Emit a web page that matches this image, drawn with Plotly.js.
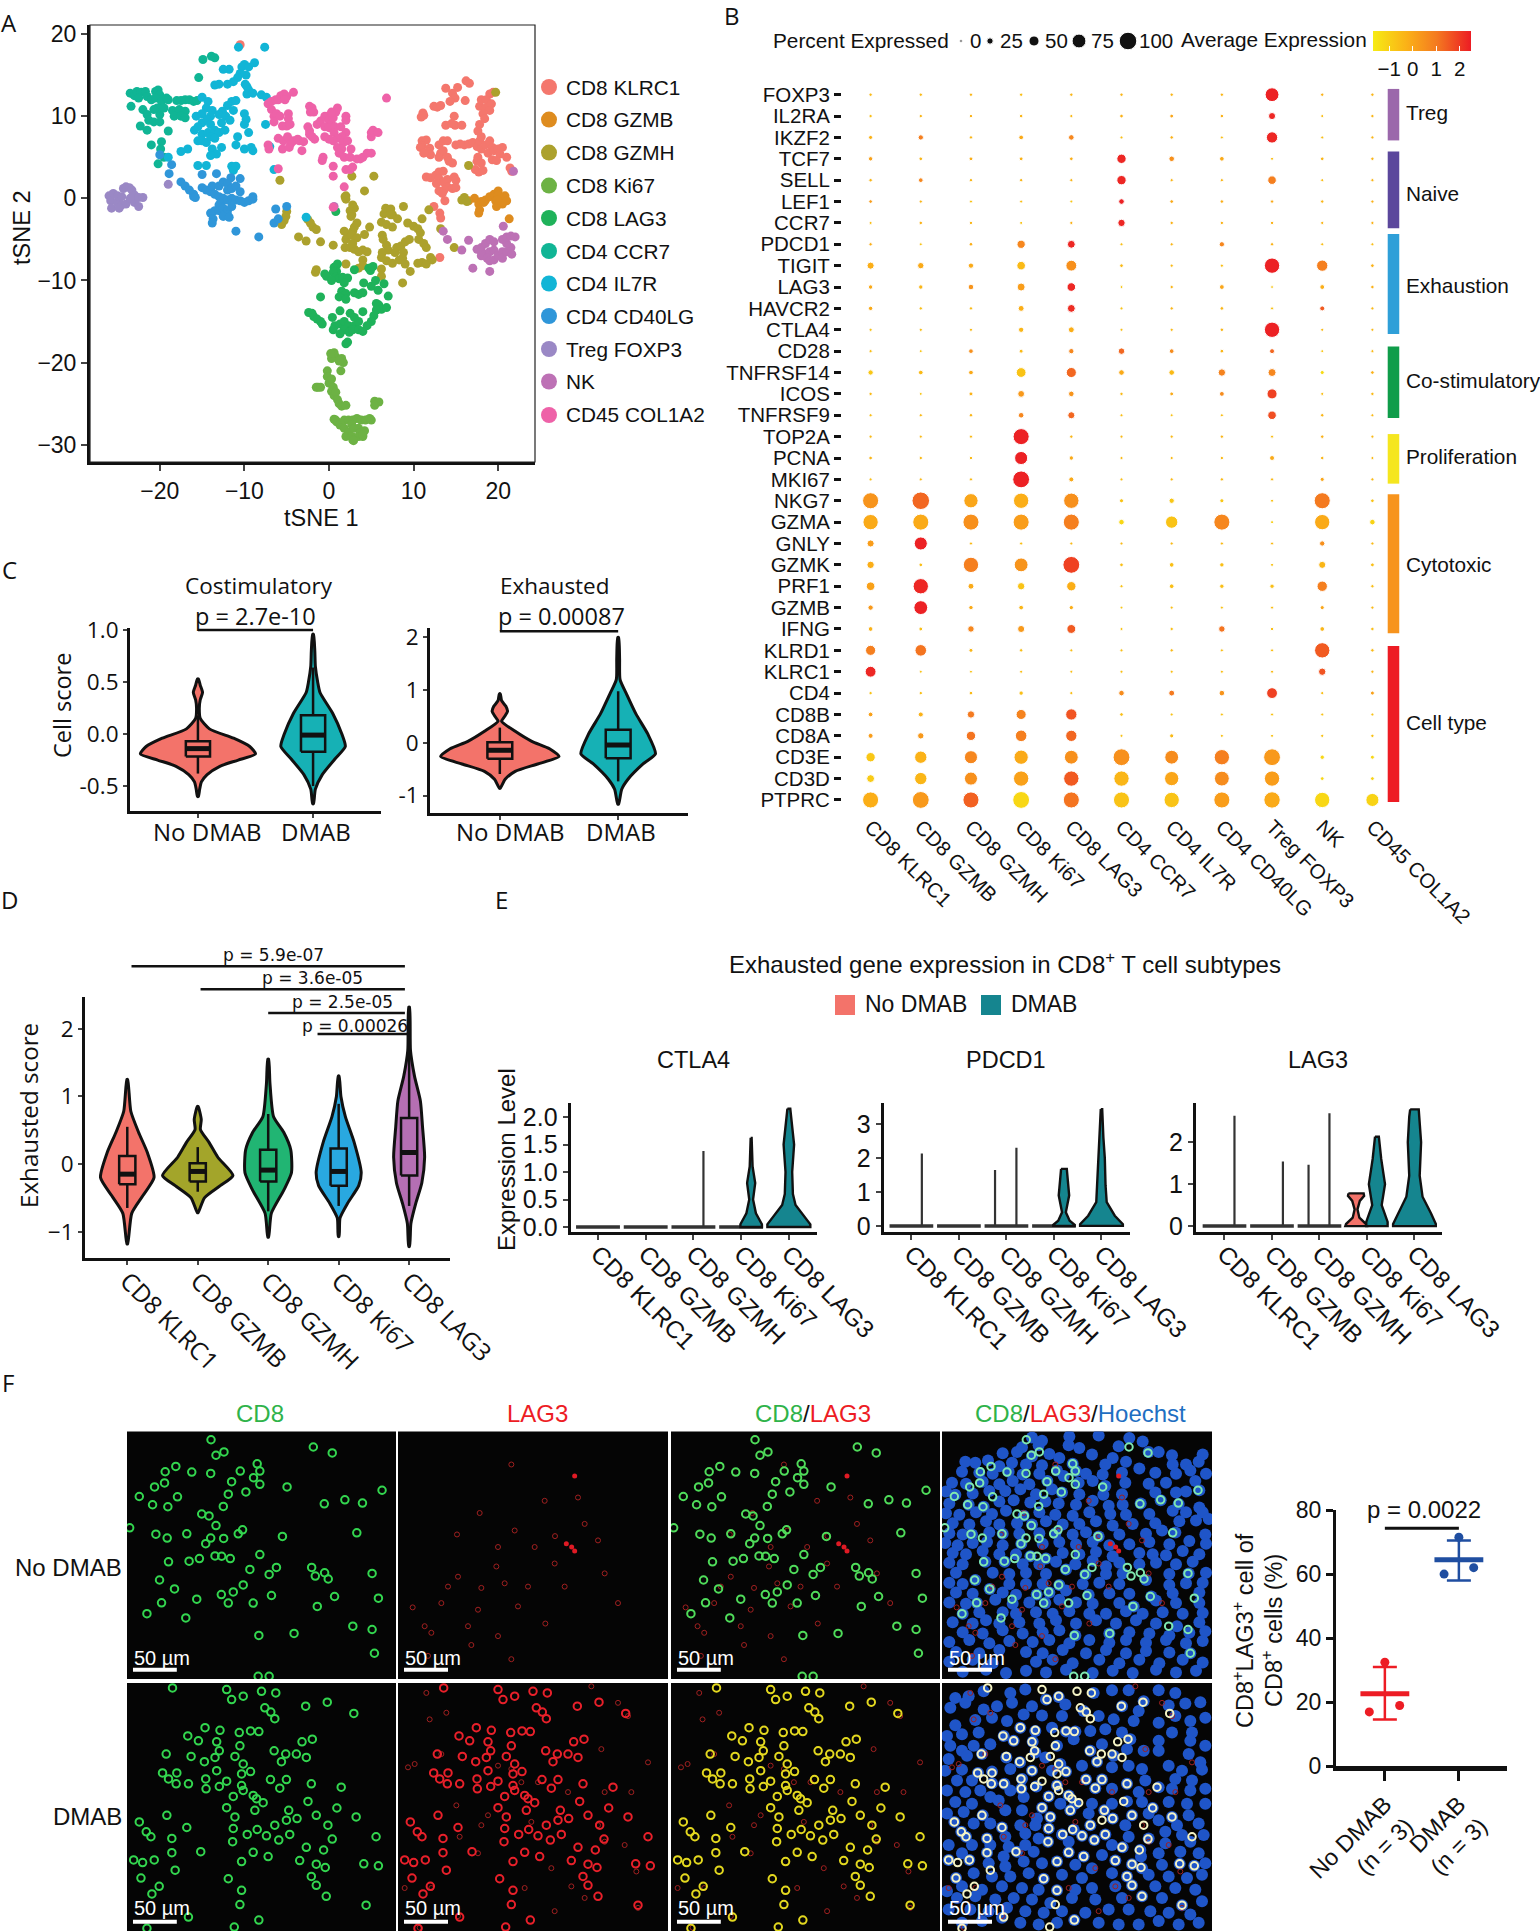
<!DOCTYPE html>
<html>
<head>
<meta charset="utf-8">
<script src="https://cdn.plot.ly/plotly-3.0.1.min.js"></script>
<style>body{margin:0;background:#fff}</style>
</head>
<body>
<div id="fig" style="width:1540px;height:1931px"></div>
<script>
// ---------- panel A: tSNE points ----------
var clusterNames = ['CD8 KLRC1','CD8 GZMB','CD8 GZMH','CD8 Ki67','CD8 LAG3','CD4 CCR7','CD4 IL7R','CD4 CD40LG','Treg FOXP3','NK','CD45 COL1A2'];
var clusterColors = ['#f4776d','#de8c1f','#aca12d','#6db244','#1fb25a','#10b595','#12b5d6','#2f96d9','#9a88c5','#bd71b5','#ee62a8'];
var klrc1Pts = [[16.2,14.3],[16.6,14],[13.8,13.4],[15.2,13.5],[14.6,12.8],[14.9,12.2],[14.3,11.8],[16.1,11.9],[17.8,11.2],[18,12],[19,12.7],[19.4,12.9],[18.6,12],[18.5,11],[19.2,11.5],[19,10.7],[18.2,10.3],[18.4,9.7],[12.4,11.2],[12.8,11.1],[13.2,11.3],[11.1,10.4],[10.9,9.9],[11.2,10.1],[14.8,10],[13.8,8.9],[14.9,8.9],[15.7,8.9],[14.5,9.1],[11,7],[11.5,7.1],[11,6.4],[10.8,6.2],[11.9,6.1],[11.7,5.6],[12,5.3],[11.2,5.5],[13,6.5],[13.5,7],[14,7],[13.2,5.5],[13,5],[13.5,5.8],[14,5],[14.2,4.5],[14.6,4.3],[15,6.5],[15.5,6.6],[16,6.5],[16.5,6.6],[17,6.8],[17.5,6.3],[17.8,7],[18,7.5],[17.6,8.2],[17.8,9],[18,6],[18.5,6.5],[19,7],[19.3,6.2],[18.8,5.5],[19.5,5.8],[20,6],[20.5,6.2],[20.2,5.4],[19.3,4.7],[19.8,4.6],[21,5],[17.6,5],[17.5,4.5],[18,4.3],[17.3,3.5],[17.7,3.2],[18.2,3.4],[21.4,3.7],[21.6,3.3],[11.5,2.6],[12,2.5],[12.6,2.8],[13,3.2],[13.5,3.3],[13,2.4],[13.5,2],[14,2.3],[14.8,2.6],[15,2.2],[14,1.4],[13.6,1],[13,0.9],[12.7,1.8],[14.6,1.2],[13.4,0.6],[15,1.3],[13.7,-0.3],[13.1,-1.8],[12.4,-1],[13.2,-2.4],[13.1,-7.2],[-10.5,18.7]];
var gzmbPts = [[17.7,-0.7],[17.8,-1.4],[17.7,-1.8],[18,-0.4],[18.5,-0.2],[19,0.2],[19.5,0.5],[20,0.9],[20,0.4],[19.7,-0.3],[20.3,0],[20.8,0.3],[21,-0.3],[20.5,-0.7],[19.8,-1],[18.3,-0.5],[21.3,-2.5],[17.2,0],[19.9,-0.2],[16.5,-0.3]];
var gzmhPts = [[16,0.1],[15.7,-0.2],[16.3,-0.4],[19.7,12.9],[16.5,4],[2.7,2.7],[5.3,2.7],[4.2,0.9],[2,0.3],[2,-0.1],[1.9,0.2],[-5.8,2.2],[2.8,-0.8],[3,-1.2],[2.5,-1.5],[2.7,-2],[2.6,-2.2],[-5,-1.6],[-5.1,-2.2],[-5.3,-2.7],[-5.6,-3.2],[-2.5,-2.6],[-2.2,-3],[-1.9,-3.5],[-1.5,-3.8],[-3.6,-4.7],[-2.7,-5.2],[-1,-5.3],[0.5,-5.7],[2,-5],[2.2,-4.4],[2.8,-4],[3,-3.5],[3.3,-3],[1.8,-4],[2.7,-4.5],[3.3,-4.8],[4.2,-4.4],[4.8,-3.5],[6.2,-2.9],[6.8,-3.2],[7.5,-3.5],[6.5,-1.9],[6.7,-1.2],[7.3,-1.3],[7.5,-2],[8.1,-2.5],[7.3,-2],[8.8,-1],[9.3,-3],[10,-3.4],[10.5,-3.7],[11,-2.5],[10.8,-4.2],[10.6,-5],[11.2,-5.5],[11.5,-6],[11.8,-1.4],[13.2,-3.7],[14.8,-6],[1.9,-6],[2.5,-6],[3,-6.2],[3.5,-6.5],[4,-6.3],[4.5,-6.5],[2.8,-5.5],[6.3,-4.5],[6.4,-5],[6.8,-5.7],[7,-6.3],[6.3,-6.6],[6.2,-7.2],[6.8,-7.6],[7.5,-7.9],[7.8,-6.6],[8,-6],[8.5,-5.8],[8.8,-6.6],[9,-5.3],[9.5,-5],[8.7,-7.3],[8.3,-7.5],[9,-8],[10.5,-7.9],[11,-7.8],[11.5,-8],[12,-7.2],[12.2,-7.5],[9.6,-8.9],[4,-7.5],[4,-8.2],[3.5,-8.5],[2,-8],[-1.5,-8.7],[-1.6,-9],[6.2,-8.6],[6.2,-9.5],[8.7,-10.3]];
var ki67Pts = [[0.5,-19],[0.8,-19.3],[0.3,-19.5],[1.5,-19.5],[1.7,-20],[1.4,-21],[0.6,-18.8],[1.2,-19.8],[0.2,-18.9],[-0.2,-21],[-0.2,-21.7],[0,-22.5],[0.3,-22],[0.5,-23],[0.3,-23.5],[0.6,-24],[-1.3,-23],[-1.5,-23],[-1,-23],[0.8,-23.6],[1,-24.5],[1.2,-25],[1.5,-25.3],[2,-25.2],[0.6,-26.9],[0.9,-27.2],[0.8,-27],[1.3,-27.6],[1.8,-27],[2.3,-27],[2.8,-27],[3.3,-26.8],[3.8,-27],[4.3,-27],[4.8,-26.8],[5,-27],[1.8,-28],[2.3,-28.5],[2.7,-27.6],[3,-28],[3.5,-28],[3.7,-28.5],[2,-29],[2.7,-29],[3.5,-29],[4,-29],[4.2,-28.3],[2.8,-29.4],[2.9,-29.5],[4,-28.8],[5.4,-24.7],[5.9,-24.8],[5.4,-25.2]];
var lag3Pts = [[0.6,-8.4],[1,-8],[0.9,-8.9],[0.5,-9],[-0.5,-9.2],[-0.3,-9.5],[0.8,-9.6],[1.2,-9.8],[1.6,-9.6],[2.2,-9.7],[3,-8.7],[4.7,-8.5],[4.9,-8.8],[5.2,-8.3],[4.1,-10.3],[5,-10.7],[6.5,-10.4],[5.5,-10],[0.3,-10],[1.8,-10.3],[-1,-12],[1.5,-11.3],[2,-11.6],[3,-11.5],[3.5,-11.7],[4,-11.5],[1.2,-12],[2,-12.3],[5.8,-11.2],[7,-11.9],[5.6,-12.8],[5.9,-13],[6.2,-13.5],[6.8,-13.3],[5.6,-13.6],[-2.4,-13.9],[-2,-14],[-1.8,-14.4],[-1.4,-14.7],[-1,-15],[-0.8,-15.3],[0.4,-14.5],[1.3,-13.7],[2.5,-14],[3,-14.5],[4,-13.8],[5.3,-14.3],[5,-15],[0.7,-15.5],[1.3,-15.3],[1.8,-15],[2.3,-15.5],[3,-15.5],[3.5,-15],[4.5,-15.5],[1.8,-16],[2.4,-16.3],[2.8,-16],[3.5,-16],[4,-16.2],[0.5,-16],[2,-17.7],[2.2,-17.5],[1.3,-16.5],[0.8,-1.6]];
var ccr7Pts = [[-23.5,12.8],[-23,12.5],[-22.7,13],[-22.2,12.9],[-21.7,13],[-22.5,12.2],[-21.5,12.4],[-20.5,13],[-20.2,13.2],[-20,12.6],[-21,12],[-20.5,12.2],[-19.8,11.8],[-19.2,12.2],[-19,12],[-18,11.9],[-17.5,11.9],[-17,12],[-16.5,12],[-16,11.8],[-15.6,11.9],[-23.4,11.2],[-22,10.8],[-21.5,10.2],[-20,10.2],[-20.3,11],[-20.7,10.8],[-19.5,11],[-21.3,9.5],[-20.7,9.3],[-20,9.3],[-22.3,8.8],[-21.5,8.3],[-18.5,10.7],[-18,10.5],[-17.7,10.8],[-17,10.6],[-18.3,10],[-17.5,10],[-17,9.8],[-19,8.2],[-19.8,6.9],[-21,6.5],[-19.9,6],[-19.5,5],[-20.2,4.2],[-15.4,14.7],[-14.9,16.9],[-13.9,17.3],[-13.5,17.1]];
var il7rPts = [[-10.7,18.4],[-7.6,18.4],[-10,16.3],[-10.3,16],[-9.5,16],[-8.8,16.5],[-9.8,15],[-11.8,15.7],[-12.5,15.7],[-10.5,15.2],[-10.8,14.7],[-11.3,14.2],[-12,13.9],[-13,13.9],[-13.5,13.8],[-9.9,13.9],[-9.7,13.6],[-9.5,13.2],[-9.7,12.7],[-9,12.8],[-8,12.6],[-7.4,12.3],[-15,12.3],[-14.3,11.8],[-11.5,11.8],[-11,11.9],[-12,11.3],[-14.5,11],[-13.8,10.7],[-12.6,10.6],[-11.3,10.7],[-15.7,10],[-15,10.3],[-14,10],[-13,10.2],[-12.2,10],[-11.7,9.5],[-10,10.3],[-9.8,9.6],[-10,9],[-15,9.2],[-14.4,9.6],[-14,9],[-12.7,9.2],[-15.5,8.7],[-15.9,8.3],[-15,7.8],[-14.3,8],[-13.5,8.3],[-13,8],[-12.3,8.3],[-10.8,7.5],[-9.5,8],[-15.5,7],[-15,7],[-14.5,6.8],[-14,7.5],[-13.5,7.3],[-11,6.5],[-12.7,6.2],[-13.8,6],[-13.3,5.4],[-14,5.2],[-10,6],[-9.2,6.2],[-9,5.8],[-16.7,6],[-17.5,5.7],[-19,5],[-15.5,4],[-14.5,4],[-11.5,3.9],[-11,3.9],[-11.3,3.4],[-7,6.3],[-7.5,9],[-6.5,3.5],[-2.7,-2.3]];
var cd40Pts = [[-20,5.3],[-18.6,4.1],[-18.9,3],[-15,2.9],[-13.3,3],[-11.6,2.5],[-10.5,2.4],[-17.5,2],[-17,1.5],[-16.5,1],[-16,0.5],[-16,0.2],[-15.8,0.1],[-15,1.3],[-14.5,1],[-14,0.8],[-13.8,1.5],[-13,1.5],[-12.5,2],[-12,1.8],[-12,1],[-11.5,1.2],[-11,1.5],[-10.5,0.8],[-13.5,0.5],[-13,0.2],[-12.8,-0.5],[-13,-0.8],[-12.5,0],[-12,-0.2],[-11.5,0],[-11,-0.2],[-10.5,-0.3],[-10,-0.5],[-9.5,-0.3],[-9,0.2],[-9,-0.1],[-14,-1.8],[-13.5,-1.5],[-13,-1.5],[-12.5,-1.2],[-12,-1.5],[-11.5,-1],[-12,-2],[-12.5,-2.2],[-11.8,-2.3],[-13.7,-2.5],[-13.8,-3],[-11,-4],[-8.3,-4.7],[-6.5,-3],[-6,-2.5],[-6.3,-1.3],[-5,-1]];
var tregPts = [[-26,0.3],[-25.8,-0.3],[-25.5,0.6],[-25.7,-1.2],[-25,-0.5],[-25,0.3],[-24.5,0.2],[-24.5,-0.8],[-24.3,1.2],[-24,1.4],[-23.6,1.3],[-23.3,1],[-23,0.4],[-23,-0.5],[-22.5,0.1],[-22,0.1],[-22.5,-1],[-24,-0.7],[-24.8,-1.2],[-23.5,0],[-19,1.7]];
var nkPts = [[13.5,-4],[14,-5],[15.7,-6.3],[16.5,-5.1],[18,-6],[18.5,-5.5],[19,-5],[19.5,-5.3],[17.5,-6.2],[18,-6.5],[18.5,-6.8],[19,-6.5],[19.5,-6.3],[18,-7],[18.7,-7.3],[19,-7.6],[19.5,-7.5],[20,-7],[20.5,-6.5],[20.5,-7.3],[21,-6.5],[21.5,-6],[21.6,-6.8],[21,-5.5],[20.5,-5],[21,-4.7],[21.5,-4.6],[22,-4.7],[20.6,-3.4],[21.8,3.3],[17,-8.5],[19,-8.9],[0.6,-1]];
var col1a2Pts = [[-6,3.6],[-7.2,11.5],[-6.8,11.8],[-6.3,12],[-6,12],[-5.7,12.5],[-5.3,12.7],[-5,12.4],[-5.2,12],[-4.2,12.9],[-6.8,10.8],[-6.5,10],[-6.2,10.3],[-6.5,9.3],[-5.8,10],[-4.8,10.3],[-4.8,9.7],[-5.5,8.8],[-5,8.8],[-4.6,9],[-6,7.3],[-7.2,6.5],[-7.1,6],[-5.4,7],[-4.9,7.5],[-4.5,6.7],[-4.2,7],[-3.7,7.2],[-5.5,6],[-4.7,6.2],[-3.2,5.8],[-2.3,11.2],[-2,11],[-2.2,10.5],[-1.8,10.5],[-2.5,8.7],[-2.3,8.2],[-2,7.5],[-1.7,7.2],[-2.3,7.8],[-1.4,9],[-1,9.4],[-0.5,10],[-0.2,10],[0,9.5],[0.3,9],[0.5,9.8],[0.8,10.5],[1,11],[0.3,10.5],[-0.5,8.7],[0,8.6],[0.7,8.7],[0.6,8],[1.4,8.7],[2,10],[2,9.5],[2,8],[1.5,7.5],[1,7.3],[0.5,7],[0,7.2],[-0.5,7.5],[1.7,6.8],[2.2,7],[1,6.2],[1.5,6],[1.2,5.5],[1.8,5],[2.5,5],[2.6,6],[-0.7,5],[-0.8,4.6],[0.5,3.9],[0.5,2.7],[2,3.5],[2.5,3.5],[2.8,3.8],[3.3,4.8],[3.7,4.8],[4,5],[4.5,5.5],[5,5.5],[5,7.5],[5,8],[5.2,8.3],[5.8,8],[6.8,12.2],[1.8,1.4],[0.5,-1.1],[-3.5,7],[-3,6.9]];

// ---------- panel B: dot plot ----------
var genes = ['FOXP3','IL2RA','IKZF2','TCF7','SELL','LEF1','CCR7','PDCD1','TIGIT','LAG3','HAVCR2','CTLA4','CD28','TNFRSF14','ICOS','TNFRSF9','TOP2A','PCNA','MKI67','NKG7','GZMA','GNLY','GZMK','PRF1','GZMB','IFNG','KLRD1','KLRC1','CD4','CD8B','CD8A','CD3E','CD3D','PTPRC'];
var dotPct = [
[5,5,5,5,5,5,5,5,75,5,5],
[5,5,5,6,4,7,8,6,30,3,5],
[10,18,5,14,20,3,6,3,58,3,4],
[12,7,8,8,7,45,20,14,3,7,5],
[6,14,5,5,4,45,4,4,40,3,4],
[7,4,3,3,2,20,7,6,5,5,4],
[3,6,5,3,4,32,5,5,5,4,4],
[5,2,7,38,35,3,4,18,5,3,3],
[30,25,18,40,55,7,4,4,85,58,7],
[12,12,20,36,40,2,5,15,2,15,6],
[12,5,5,22,35,3,5,7,3,16,4],
[4,4,4,18,22,3,4,6,85,3,3],
[4,2,14,9,18,26,14,7,16,2,3],
[18,14,14,48,50,20,20,32,36,10,7],
[5,2,9,28,20,5,8,15,50,3,5],
[4,4,6,20,30,3,2,3,40,6,3],
[4,3,4,90,5,3,4,5,3,6,3],
[7,5,5,70,12,4,4,5,16,6,3],
[3,3,4,95,16,3,4,5,4,10,4],
[90,100,78,85,85,10,18,10,3,90,7],
[85,90,90,90,90,20,65,90,3,85,20],
[30,70,4,4,3,3,4,4,3,18,4],
[32,7,85,75,95,7,14,12,3,30,8],
[40,85,22,32,45,4,14,12,12,52,5],
[18,75,12,14,11,2,3,3,3,10,4],
[14,8,26,30,42,3,5,26,5,14,6],
[50,60,9,6,3,3,5,3,3,85,6],
[55,2,2,3,2,3,3,3,3,32,4],
[5,5,7,12,4,20,22,20,55,4,9],
[14,16,32,50,58,7,3,3,3,3,3],
[16,25,45,60,58,3,10,3,3,4,5],
[45,65,70,78,75,95,75,85,95,12,9],
[35,65,70,85,85,85,78,82,85,8,8],
[90,95,90,95,90,90,85,90,92,85,70]];
var dotExpr = [
[-.5,-.5,-.4,-.6,-.4,-.4,-.4,-.4,2.4,-.3,-.4],
[-.6,-.4,-.3,-.4,-.5,-.3,0,-.3,2.3,-.6,-.4],
[-.3,.9,-.4,-.1,.7,-.6,-.3,-.6,2.3,-.6,-.4],
[.1,-.4,-.2,-.3,-.2,2.3,.5,-.1,-.6,-.4,-.4],
[-.4,.7,-.4,-.4,-.4,2.3,-.4,-.4,.9,-.6,-.4],
[.2,-.4,-.7,-.6,-.8,2.4,-.1,-.2,-.1,-.4,-.3],
[-.6,-.3,-.4,-.7,-.3,2.3,-.3,-.3,-.3,-.4,-.3],
[-.2,-.7,-.2,.7,2.3,-.6,-.4,.7,-.3,-.6,-.6],
[-.2,-.1,-.1,-.5,.5,-.5,-.5,-.6,2.4,.9,-.3],
[-.1,-.4,.4,.2,2.3,-.8,-.4,0,-.8,-.2,-.3],
[-.1,-.6,-.5,-.2,2.2,-.7,-.4,-.4,-.7,1.5,-.5],
[-.7,-.6,-.5,-.4,-.2,-.6,-.5,-.4,2.4,-.5,-.5],
[-.6,-.8,.5,-.5,.7,1.3,.6,-.4,1.3,-.8,-.5],
[-.8,-.5,-.1,-.7,1.3,-.1,-.5,.8,.7,-1.3,-.3],
[-.5,-.8,-.3,.3,.4,-.5,-.1,.6,1.9,-.6,-.5],
[-.6,-.5,-.4,.7,1.3,-.6,-.7,-.6,1.7,-.4,-.5],
[-.5,-.5,-.5,2.4,-.4,-.5,-.5,-.4,-.6,-.3,-.5],
[-.4,-.5,-.5,2.4,-.1,-.5,-.5,-.5,-.1,-.4,-.5],
[-.6,-.5,-.5,2.4,-.1,-.6,-.5,-.5,-.5,0,-.5],
[.4,1.3,0,-.2,.5,-.7,-.8,-.8,-.7,1,-.7],
[-.1,-.1,.5,.2,.9,-1.2,-.7,.7,-1,-.1,-1.1],
[.2,2.4,-.5,-.6,-.5,-.5,-.5,-.5,-.5,.5,-.5],
[-.2,-.6,.9,.4,1.9,-.6,-.6,-.6,-.7,-.4,-.6],
[.1,2.3,-.1,-.7,-.2,-.7,-.6,-.6,-.6,.9,-.6],
[.3,2.4,-.1,-.4,-.2,-.8,-.6,-.7,-.6,0,-.5],
[-.3,-.6,.7,.3,1.5,-.7,-.6,1.1,-.6,-.4,-.6],
[.9,1.1,-.4,-.6,-.6,-.6,-.5,-.6,-.6,1.5,-.5],
[2.3,-.7,-.7,-.6,-.6,-.6,-.6,-.6,-.5,1.6,-.4],
[-.7,-.6,-.5,-.6,-.6,.6,1,.4,1.9,-.6,.1],
[.1,-.3,1,.8,1.6,-.6,-.7,-.7,-.7,-.7,-.7],
[.2,.3,1.1,.9,1.3,-.7,-.5,-.7,-.7,-.7,-.7],
[-.8,-.3,.7,-.1,.5,.5,.6,.9,.3,-1.2,-1.2],
[-.9,-.4,.5,.1,1.5,-.4,0,.6,.2,-1.2,-1.1],
[-.2,.3,1.4,-1.2,1.1,-.7,-.7,.2,-.1,-1.2,-1.1]];
var groupNames = ['Treg','Naive','Exhaustion','Co-stimulatory','Proliferation','Cytotoxic','Cell type'];
var groupStart = [-0.27,2.66,6.52,11.78,15.88,18.7,25.8];
var groupEnd = [2.14,6.25,11.2,15.13,18.2,25.2,33.1];
var groupColors = ['#9b68ab','#5b479c','#2f9fd8','#0f9d4a','#f5e61f','#f7941d','#ed1c24'];
var exprScale = [[0,'#f6eb14'],[0.35,'#fbb017'],[0.65,'#f47a20'],[1,'#ec1c24']];
var legendPct = [0,25,50,75,100];

// ---------- panel C: violin outlines (score, half width) and box stats ----------
var groups2 = ['No DMAB','DMAB'];
var costimNoY = [.53,.47,.4,.33,.25,.15,.05,-.04,-.12,-.19,-.25,-.31,-.39,-.46,-.53,-.6];
var costimNoW = [.004,.02,.04,.02,.012,.02,.1,.31,.45,.5,.35,.19,.08,.03,.015,.004];
var costimDmY = [.96,.8,.65,.5,.4,.2,0,-.12,-.24,-.39,-.53,-.67];
var costimDmW = [.004,.015,.02,.04,.06,.17,.25,.28,.19,.08,.02,.004];
var costimBox = [[-.38,-.215,-.14,-.07,.18],[-.5,-.17,-.01,.18,.64]];
var exhNoY = [.93,.8,.7,.6,.5,.41,.22,.03,-.11,-.26,-.4,-.54,-.69,-.86];
var exhNoW = [.004,.015,.05,.065,.04,.015,.13,.27,.42,.5,.32,.13,.045,.004];
var exhDmY = [2,1.6,1.2,.93,.55,.17,-.21,-.4,-.69,-.88,-1.16];
var exhDmW = [.004,.012,.016,.07,.15,.25,.315,.21,.083,.03,.004];
var exhBox = [[-.59,-.3,-.14,.01,.29],[-.73,-.29,-.04,.25,.98]];

// ---------- panel D ----------
var subsets = ['CD8 KLRC1','CD8 GZMB','CD8 GZMH','CD8 Ki67','CD8 LAG3'];
var subsetColors = ['#f3736a','#a3a52a','#21b573','#29a8e0','#b56fb3'];
var subsetY = [
[1.25,.78,.47,.17,-.2,-.47,-.73,-1.18],
[.85,.66,.51,.32,.1,-.17,-.32,-.5,-.72],
[1.55,1.19,.7,.47,.21,-.13,-.39,-.73,-1.08],
[1.3,1,.7,.32,-.13,-.32,-.58,-.8,-1.07],
[2.32,1.68,1.3,.93,.55,.1,-.28,-.58,-.88,-1.22]];
var subsetW = [
[.006,.05,.16,.285,.38,.22,.063,.006],
[.006,.05,.038,.16,.285,.5,.32,.095,.006],
[.006,.025,.076,.22,.32,.33,.22,.044,.006],
[.006,.032,.095,.22,.32,.285,.127,.019,.006],
[.006,.019,.076,.16,.19,.22,.18,.095,.025,.006]];
var subsetBox = [[-.65,-.3,-.15,.12,.55],[-.41,-.26,-.11,.01,.25],[-.7,-.26,-.09,.21,.74],[-.62,-.32,-.11,.23,.89],[-.62,-.17,.17,.68,1.68]];
var pBracketL = [.06,1.04,2,2.7];
var pBracketR = [3.94,3.94,3.94,3.99];
var pBracketY = [2.92,2.58,2.23,1.92];
var pLabels = ['p = 5.9e-07','p = 3.6e-05','p = 2.5e-05','p = 0.00026'];

// ---------- panel E: split violins per gene ----------
var salmon = '#f3736a', teal = '#15858f';
var ctla4Spikes = [[2.21,1.38]];
var ctla4Shapes = [
{c:3.21,f:teal,y:[1.62,1.1,.8,.5,.25,.05,0],w:[.01,.03,.085,.04,.1,.225,.225]},
{c:4,f:teal,y:[2.15,1.8,1.5,1,.6,.4,.2,.05,0],w:[.03,.08,.11,.07,.085,.14,.31,.45,.45]}];
var pdcd1Spikes = [[.22,2.13],[1.76,1.65],[2.21,2.3]];
var pdcd1Shapes = [
{c:3.21,f:teal,y:[1.68,1.3,.9,.4,.15,.03,0],w:[.06,.08,.11,.04,.12,.225,.225]},
{c:4,f:teal,y:[3.44,2.6,2,1.2,.7,.3,.05,0],w:[.015,.04,.07,.085,.11,.28,.45,.45]}];
var lag3Spikes = [[.21,2.63],[1.23,1.54],[1.77,1.46],[2.21,2.69]];
var lag3Shapes = [
{c:2.77,f:salmon,y:[.78,.72,.6,.4,.2,.05,0],w:[.16,.17,.08,.03,.07,.21,.225]},
{c:3.21,f:teal,y:[2.13,1.6,1,.5,.1,0],w:[.04,.09,.17,.1,.225,.225]},
{c:4,f:teal,y:[2.78,2.6,2,1.2,.7,.3,.05,0],w:[.09,.11,.14,.11,.17,.35,.45,.45]}];

// ---------- panel F: cell positions in image pixels (crop at 810x750) ----------
var noDmabCd8 = [253,25,268,72,292,62,195,123,115,122,147,106,252,127,341,120,392,98,400,120,381,140,315,152,400,160,358,183,305,190,83,168,113,156,37,197,77,222,123,228,152,198,290,227,225,250,247,256,268,285,87,311,121,323,180,310,237,340,252,323,291,324,335,310,348,298,8,292,265,377,285,378,311,385,218,385,187,393,125,395,400,373,468,318,482,168,561,47,594,219,656,207,709,217,768,178,692,307,98,450,143,477,104,519,210,508,284,494,320,486,305,520,350,465,370,418,428,433,450,412,435,497,556,412,595,428,606,447,567,438,738,430,573,530,625,500,757,505,60,552,177,565,397,618,503,612,680,590,738,600,745,672,395,742,428,742,380,520,618,65];
var dmabCd8 = [137,15,300,20,315,50,350,40,405,25,448,30,538,70,603,58,415,75,433,88,445,108,683,92,235,135,280,143,183,160,215,175,372,145,397,147,338,150,270,178,278,205,265,225,340,190,443,205,527,178,558,170,118,215,193,222,233,238,325,222,465,238,478,215,510,215,540,225,270,265,350,245,372,268,150,272,107,272,125,290,148,305,185,305,237,290,238,320,278,313,300,297,345,275,345,310,432,292,480,292,460,318,555,305,645,315,320,343,380,340,390,350,410,362,350,325,300,377,545,358,632,378,120,400,37,420,180,437,58,450,72,465,135,470,325,405,385,385,487,385,480,415,512,410,570,400,690,405,320,440,392,443,362,458,318,480,420,462,457,475,445,430,490,458,605,430,618,472,750,465,135,513,222,510,380,512,425,525,345,540,540,497,592,505,520,537,570,548,597,558,713,547,757,553,20,535,47,543,82,535,145,566,42,590,305,592,555,585,570,612,97,615,345,627,600,645,75,638,720,672,340,670,397,717,323,738,60,742,185,708];
var noDmabLag3 = [471,317,177,312,245,247,295,409,250,474,44,533,442,582,220,647,560,280,350,300,410,350,470,400,320,460,390,470,130,520,80,590,210,590,360,530,500,470,600,330,620,430,660,520,300,350,180,440,240,540,300,620,90,680,150,470,100,610,340,690,440,210,540,200,340,100];
var noDmabLag3Bright = [521,350,530,362,505,340,530,135];
var dmabLag3Faint = [50,245,30,255,85,30,145,90,95,110,130,215,175,370,270,400,185,465,240,515,680,490,700,330,460,560,520,615,380,620,690,100,750,240,620,330,600,430,470,690,180,705,65,740,580,10,660,60,620,480,715,570,720,680,560,650,20,620,100,620,610,200,340,260,370,300,300,250,420,300,510,330,400,420,250,430];
var noDmabNuclei = [
270,18,300,28,382,15,470,12,562,20,602,30,
240,48,290,42,380,42,412,50,530,45,650,62,
182,66,225,62,270,75,322,68,352,80,450,70,512,80,620,62,690,72,782,70,
70,92,100,95,138,88,172,105,210,95,252,100,300,102,392,98,432,128,490,100,552,92,592,112,692,100,732,100,770,92,
60,122,112,125,152,128,200,122,242,130,292,128,345,118,402,120,482,130,540,125,640,125,702,128,745,118,792,128,
30,155,72,158,122,152,172,160,212,150,262,160,316,150,365,135,410,155,452,150,490,165,550,155,620,158,672,155,760,150,
12,182,40,192,92,188,142,180,190,180,235,175,282,190,330,175,360,185,412,190,484,192,540,190,640,185,702,185,732,182,772,178,
22,218,80,222,125,228,172,212,215,208,265,215,310,212,350,218,402,222,452,210,500,225,542,222,596,218,656,208,710,220,772,230,
12,248,52,252,102,245,150,250,192,240,245,255,292,245,340,252,392,255,442,245,505,250,552,252,622,250,692,240,732,245,782,245,
32,278,82,282,132,272,172,282,225,278,270,282,312,272,362,282,412,280,462,272,512,285,572,280,640,278,712,272,762,270,800,265,
22,308,62,312,90,312,142,305,182,310,232,310,292,308,340,308,392,312,432,305,470,318,532,312,612,310,660,300,700,306,790,312,
10,338,47,345,92,338,135,335,182,345,238,340,302,340,352,335,402,342,452,335,502,345,562,342,622,335,682,342,742,332,792,340,
32,368,72,372,122,362,172,372,222,372,265,378,312,385,362,368,412,372,462,365,512,378,592,368,632,372,672,375,722,362,772,372,
22,398,62,402,130,395,188,395,242,402,292,402,342,395,400,402,452,392,492,408,532,398,592,402,642,398,702,402,752,395,
42,428,100,450,152,428,202,432,252,428,312,432,372,418,430,433,492,432,542,430,612,450,682,432,740,430,792,428,
22,458,62,462,143,477,202,462,252,462,302,462,352,465,422,462,472,458,532,462,682,465,732,460,782,458,
42,488,92,492,182,488,222,495,284,494,322,488,372,482,440,495,502,490,562,492,628,500,692,490,772,488,
22,518,72,522,105,520,160,510,212,522,262,518,310,520,352,510,402,518,452,522,532,520,575,530,642,512,702,520,772,520,
62,552,112,548,182,548,222,552,282,548,332,552,382,545,442,552,492,552,552,545,602,552,662,548,722,552,782,550,
32,578,92,582,132,572,172,582,232,578,292,582,342,572,402,582,462,572,522,582,582,572,642,582,705,590,772,578,
62,608,122,612,182,602,242,612,302,608,352,602,400,618,502,612,562,608,622,612,682,618,742,610,790,605,
22,638,82,632,142,642,202,635,272,638,322,632,382,642,442,632,502,640,552,632,612,640,672,632,732,642,782,635,
42,668,112,672,172,662,252,668,302,672,362,662,432,672,492,662,552,672,612,665,682,670,745,672,
22,698,92,692,152,702,282,698,332,692,392,702,472,692,532,702,592,692,652,702,722,692,782,700,
62,728,132,722,192,732,252,725,312,730,372,722,452,732,512,725,572,732,642,722,702,730,762,725];
var dmabNuclei = [
40,45,80,40,125,25,205,30,250,20,312,50,350,42,455,30,510,22,560,22,605,55,650,22,700,30,775,58,
25,75,70,60,125,80,165,70,210,60,270,70,370,65,425,85,540,70,590,85,680,68,730,62,
40,128,100,112,150,105,195,115,245,95,300,98,360,100,470,100,515,110,575,115,650,120,700,100,745,115,790,105,
15,160,60,155,110,150,185,160,235,135,280,145,330,135,372,147,400,147,445,145,490,140,540,150,690,150,750,150,
25,190,95,190,60,205,145,185,215,175,272,178,345,190,395,170,445,205,480,185,565,170,650,175,745,175,790,190,
20,230,75,220,120,215,193,225,234,240,280,210,310,225,355,245,465,238,515,220,555,200,605,205,650,205,740,215,775,240,
10,265,60,262,108,272,150,268,205,260,270,265,330,265,372,268,420,250,510,255,560,250,600,260,680,250,720,265,780,262,
45,295,90,295,150,303,187,305,240,290,283,313,345,310,432,292,480,292,555,305,610,295,650,315,700,290,750,295,
15,325,70,330,115,325,145,345,205,325,238,320,320,343,380,340,460,318,510,320,590,330,690,320,745,325,790,320,
40,360,90,365,170,355,245,345,300,377,355,365,400,365,450,365,510,365,555,358,600,360,632,378,680,360,735,365,790,365,
15,395,65,390,122,400,190,385,240,385,285,410,325,405,385,385,440,395,487,385,570,400,620,395,690,405,740,400,
37,420,95,425,145,425,180,437,235,430,280,430,320,440,395,443,445,430,512,410,550,430,650,415,705,430,770,425,
58,450,72,465,135,470,190,465,250,455,290,470,360,458,420,462,490,458,560,465,620,470,670,450,720,460,785,460,
20,490,90,490,145,490,200,495,250,490,318,480,380,480,457,475,510,490,542,497,595,505,670,485,745,480,
20,535,60,515,135,513,185,525,225,510,275,510,345,540,380,512,425,525,480,520,520,537,570,548,597,525,650,515,715,510,770,515,
82,535,140,545,190,555,245,540,300,545,400,550,450,560,600,560,660,550,713,547,757,553,790,545,
42,590,95,575,150,585,205,585,260,575,305,592,360,580,420,590,510,575,555,585,620,580,680,585,735,590,780,580,
15,630,60,615,120,625,180,615,240,620,290,625,345,627,400,625,450,620,520,615,570,612,640,615,700,620,760,625,
45,650,100,645,160,655,215,650,270,655,325,665,390,650,460,655,540,650,600,645,660,650,720,672,780,660,
20,685,85,685,140,690,195,680,250,690,305,695,360,690,430,695,500,685,560,685,625,690,680,695,745,700,
60,725,120,720,180,710,235,725,290,730,345,725,397,717,470,725,530,730,590,730,650,720,710,730,770,725];

// percent chart in F
var pctNames = ['No DMAB<br>(n = 3)','DMAB<br>(n = 3)'];
var pctColors = ['#ed1c24','#1f4ea1'];
var pctMean = [22.7,64.5];
var pctUp = [31,70.5];
var pctLow = [14.6,58];
var pctPtsX = [[0,-.21,.2],[1,.8,1.2]];
var pctPtsY = [[32.5,17,19],[71.5,60,62]];

// ---------- helpers ----------
var W = 1540, H = 1931;
var traces = [], annos = [], shapes = [];
var layout = {width:W, height:H, margin:{l:0,r:0,t:0,b:0}, showlegend:false, paper_bgcolor:'#fff', plot_bgcolor:'rgba(0,0,0,0)',
  font:{family:'Liberation Sans, Arial, sans-serif', color:'#111'}, hovermode:false};
var sansA = 'Liberation Sans, Arial, sans-serif', sansC = 'Open Sans, sans-serif';

function ax(n, l, r, t, b, xo, yo) {
  var s = n == 1 ? '' : n;
  layout['xaxis'+s] = Object.assign({domain:[l/W, r/W], anchor:'y'+s, zeroline:false, showgrid:false}, xo);
  layout['yaxis'+s] = Object.assign({domain:[1-b/H, 1-t/H], anchor:'x'+s, zeroline:false, showgrid:false}, yo);
}
function on(n, tr) { var s = n == 1 ? '' : n; tr.xaxis = 'x'+s; tr.yaxis = 'y'+s; traces.push(tr); return tr; }
function txt(x, y, s, size, o) {
  annos.push(Object.assign({xref:'paper', yref:'paper', x:x/W, y:1-y/H, text:s, showarrow:false, xanchor:'center', yanchor:'middle',
    font:{size:size, family:sansA, color:'#111'}}, o||{}));
}
function violin(n, c, ys, ws, fill, lw, shape) {
  var xs = [], yy = [];
  ys.forEach(function(v,i){ xs.push(c-ws[i]); yy.push(v); });
  for (var i=ys.length-1;i>=0;i--) { xs.push(c+ws[i]); yy.push(ys[i]); }
  xs.push(xs[0]); yy.push(yy[0]);
  on(n, {type:'scatter', mode:'lines', x:xs, y:yy, fill:'toself', fillcolor:fill, line:{color:'#111', width:lw, shape:shape||'spline', smoothing:0.6}});
}
function seg(n, x0, x1, y0, y1, col, lw) {
  on(n, {type:'scatter', mode:'lines', x:[x0,x1], y:[y0,y1], cliponaxis:false, line:{color:col, width:lw}});
}
// box stats drawn as lines: box traces would sit under the scatter fills
function box(n, c, st, w, fill) {
  seg(n, c, c, st[0], st[4], '#111', 2.5);
  on(n, {type:'scatter', mode:'lines', x:[c-w/2,c+w/2,c+w/2,c-w/2,c-w/2], y:[st[1],st[1],st[3],st[3],st[1]], fill:'toself', fillcolor:fill, line:{color:'#111', width:2.5}});
  seg(n, c-w/2, c+w/2, st[2], st[2], '#111', 5);
}

// ---------- A ----------
var axisA = {showline:true, linewidth:3, linecolor:'#111', ticks:'outside', ticklen:6, tickwidth:2, tickfont:{size:23, family:sansA}};
ax(1, 90, 535, 25, 462, Object.assign({range:[-28.25,24.35], tickvals:[-20,-10,0,10,20]}, axisA), Object.assign({range:[-32.1,21.1], tickvals:[-30,-20,-10,0,10,20]}, axisA));
shapes.push({type:'rect', xref:'x domain', yref:'y domain', x0:0, x1:1, y0:0, y1:1, line:{color:'#222', width:1.2}});
[klrc1Pts,gzmbPts,gzmhPts,ki67Pts,lag3Pts,ccr7Pts,il7rPts,cd40Pts,tregPts,nkPts,col1a2Pts].forEach(function(pts,i){
  on(1, {type:'scatter', mode:'markers', x:pts.map(function(p){return p[0]}), y:pts.map(function(p){return p[1]}), marker:{size:9, color:clusterColors[i]}});
});
txt(321, 518, 'tSNE 1', 23.5);
txt(22, 228, 'tSNE 2', 23.5, {textangle:-90});

// overlay axis in page pixels, for the legends
ax(18, 0, W, 0, H, {range:[0,W], visible:false}, {range:[H,0], visible:false});
var legendAY = [87,119.6,152.6,185.6,218,251,283.5,316,349,381.5,415];
on(18, {type:'scatter', mode:'markers', x:legendAY.map(function(){return 549}), y:legendAY, marker:{size:16, color:clusterColors}});
clusterNames.forEach(function(s,i){ txt(564, legendAY[i], s, 20.8, {xanchor:'left'}); });

// ---------- B ----------
function dotSize(p) { return 2.6 + 0.15*p; }
ax(2, 842, 1400, 84, 810,
  {range:[-0.57,10.55], tickvals:clusterNames.map(function(c,i){return i}), ticktext:clusterNames, tickangle:45, ticks:'', showline:false, tickfont:{size:20.5, family:sansA}},
  {range:[33.47,-0.5], tickvals:genes.map(function(g,i){return i}), ticktext:genes, ticks:'outside', ticklen:7, tickwidth:3, tickcolor:'#111', showline:false, tickfont:{size:20.5, family:sansA}});
var dotX = [], dotY = [], dotP = [], dotE = [];
genes.forEach(function(g,r){ clusterNames.forEach(function(c,k){ dotX.push(k); dotY.push(r); dotP.push(dotPct[r][k]); dotE.push(dotExpr[r][k]); }); });
on(2, {type:'scatter', mode:'markers', x:dotX, y:dotY, marker:{size:dotP.map(dotSize), opacity:1, color:dotE, colorscale:exprScale, cmin:-1.7, cmax:2.47,
  colorbar:{orientation:'h', x:1372.7/W, xanchor:'left', y:1-31/H, yanchor:'top', len:97.8, lenmode:'pixels', thickness:19.7, thicknessmode:'pixels', xpad:0, ypad:0, outlinewidth:0,
    tickvals:[-1,0,1,2], ticktext:['−1','0','1','2'], ticks:'inside', ticklen:5, tickcolor:'#fff', tickfont:{size:20.5, family:sansA}}}});
on(2, {type:'bar', x:groupNames.map(function(){return 10.42}), base:groupStart, y:groupEnd.map(function(e,i){return e-groupStart[i]}), width:0.23, marker:{color:groupColors}});
var groupLabelY = [113,194,285,381,456,564,722];
groupNames.forEach(function(s,i){ txt(1404, groupLabelY[i], s, 20.8, {xanchor:'left'}); });
txt(771, 41, 'Percent Expressed', 20.8, {xanchor:'left'});
txt(1179, 40, 'Average Expression', 20.8, {xanchor:'left'});
on(18, {type:'scatter', mode:'markers', x:[961,990,1034,1079,1128], y:[41,41,41,41,41], marker:{size:legendPct.map(dotSize), opacity:1, color:'#111'}});
var legendPctX = [968,998,1043,1089,1137];
legendPct.forEach(function(p,i){ txt(legendPctX[i], 41, String(p), 20.5, {xanchor:'left'}); });

// ---------- C ----------
var axisC = {showline:true, linewidth:3, linecolor:'#111', ticks:'outside', ticklen:4, tickwidth:2, tickfont:{size:22.5, family:sansC}};
ax(3, 130, 381, 628, 811, Object.assign({range:[-0.59,1.59], tickvals:[0,1], showticklabels:false}, axisC), Object.assign({range:[-0.74,1.02], tickvals:[-.5,0,.5,1], ticktext:['-0.5','0.0','0.5','1.0']}, axisC));
ax(4, 430, 688, 628, 813, Object.assign({range:[-0.59,1.59], tickvals:[0,1], showticklabels:false}, axisC), Object.assign({range:[-1.33,2.18], tickvals:[-1,0,1,2], ticktext:['-1','0','1','2']}, axisC));
violin(3, 0, costimNoY, costimNoW, '#f3736a', 3);
violin(3, 1, costimDmY, costimDmW, '#16b1b5', 3);
box(3, 0, costimBox[0], .21, '#f3736a');
box(3, 1, costimBox[1], .21, '#16b1b5');
seg(3, 0, 1, 1.0, 1.0, '#111', 2.5);
violin(4, 0, exhNoY, exhNoW, '#f3736a', 3);
violin(4, 1, exhDmY, exhDmW, '#16b1b5', 3);
box(4, 0, exhBox[0], .21, '#f3736a');
box(4, 1, exhBox[1], .21, '#16b1b5');
seg(4, 0, 1, 2.12, 2.12, '#111', 2.5);
function titleC(x, y, s, size, o) { txt(x, y, s, size, Object.assign({font:{size:size, family:sansC, color:'#111'}}, o||{})); }
titleC(207, 831, groups2[0], 24);
titleC(315.6, 831, groups2[1], 24);
titleC(510, 831, groups2[0], 24);
titleC(621, 831, groups2[1], 24);
titleC(259, 585, 'Costimulatory', 22.5);
titleC(255, 616, 'p = 2.7e-10', 23.5);
titleC(555, 585, 'Exhausted', 22.5);
titleC(561, 616, 'p = 0.00087', 23.5);
titleC(62, 706, 'Cell score', 23.5, {textangle:-90});

// ---------- D ----------
var axisD = Object.assign({}, axisC, {tickfont:{size:22.5, family:sansC}});
ax(5, 85, 450, 997, 1258, Object.assign({range:[-0.6,4.58], tickvals:[0,1,2,3,4], ticktext:subsets, tickangle:45, ticklabelstandoff:-8, tickfont:{size:24.5, family:sansC}}, {showline:true, linewidth:3, linecolor:'#111', ticks:'outside', ticklen:4, tickwidth:2}), Object.assign({range:[-1.39,2.47], tickvals:[-1,0,1,2], ticktext:['−1','0','1','2']}, axisD));
// same scale as panel D, taller hidden axis so the brackets above the plot are kept
ax(19, 85, 450, 950, 1258, {range:[-0.6,4.58], visible:false}, {range:[-1.39,3.16], visible:false});
subsets.forEach(function(s,i){
  violin(5, i, subsetY[i], subsetW[i], subsetColors[i], 3);
  box(5, i, subsetBox[i], .23, subsetColors[i]);
});
pBracketL.forEach(function(l,i){ seg(19, l, pBracketR[i], pBracketY[i], pBracketY[i], '#111', 2.5); });
var pLabelX = [273,312,342,355], pLabelY = [955,978,1002,1026];
pLabels.forEach(function(s,i){ txt(pLabelX[i], pLabelY[i], s, 17, {font:{size:17, family:'DejaVu Sans, sans-serif', color:'#111'}}); });
titleC(28, 1116, 'Exhausted score', 24.2, {textangle:-90});

// ---------- E ----------
var axisE = {showline:true, linewidth:3, linecolor:'#111', ticks:'outside', ticklen:5, tickwidth:2};
function exprPanel(n, l, r, xr, yr, yt, spikes, sh) {
  ax(n, l, r, 1102.7, 1232, Object.assign({range:xr, tickvals:[0,1,2,3,4], ticktext:subsets, tickangle:45, ticklabelstandoff:-10, tickfont:{size:24.5, family:sansA}}, axisE), Object.assign({range:yr, tickvals:yt, tickfont:{size:25, family:sansA}}, axisE));
  [0,1,2,3].forEach(function(c){ if (!(n==8 && c==3)) seg(n, c-.46, c+.46, 0, 0, '#333', 3.5); });
  spikes.forEach(function(p){ seg(n, p[0], p[0], 0, p[1], '#333', 2.2); });
  sh.forEach(function(v){ violin(n, v.c, v.y, v.w, v.f, 2.4, 'linear'); });
}
exprPanel(6, 570.6, 817, [-.574,4.59], [-.09,2.26], [0,.5,1,1.5,2], ctla4Spikes, ctla4Shapes);
layout.yaxis6.tickformat = '.1f';
exprPanel(7, 883.6, 1130, [-.585,4.6], [-.18,3.63], [0,1,2,3], pdcd1Spikes, pdcd1Shapes);
exprPanel(8, 1196, 1442, [-.6,4.58], [-.14,2.94], [0,1,2], lag3Spikes, lag3Shapes);
txt(1005, 963, 'Exhausted gene expression in CD8<sup>+</sup> T cell subtypes', 24);
on(18, {type:'scatter', mode:'markers', x:[845,991], y:[1005,1005], marker:{symbol:'square', size:20, color:[salmon,teal]}});
txt(863, 1004, 'No DMAB', 23, {xanchor:'left'});
txt(1009, 1004, 'DMAB', 23, {xanchor:'left'});
txt(693, 1060, 'CTLA4', 23.5);
txt(1006, 1060, 'PDCD1', 23.5);
txt(1318, 1060, 'LAG3', 23.5);
txt(506, 1160, 'Expression Level', 24, {textangle:-90});

// ---------- F images ----------
var imgL = [127,398,671,942], imgR = [396,668,940,1212];
var imgT = [1431.5,1683], imgB = [1679,1931];
var nuclei = [noDmabNuclei, dmabNuclei], cd8 = [noDmabCd8, dmabCd8];
var lag3Rings = [noDmabLag3, dmabCd8], lag3Extra = [noDmabLag3Bright, dmabLag3Faint];
function layer(n, flat, sym, size, col, lw, op) {
  var xs = [], ys = [];
  for (var i=0;i<flat.length;i+=2) { xs.push(flat[i]); ys.push(flat[i+1]); }
  on(n, {type:'scatter', mode:'markers', x:xs, y:ys, opacity:op||1, marker:{symbol:sym, size:size, color:col, line:{color:col, width:lw}}});
}
[0,1].forEach(function(row){
  [0,1,2,3].forEach(function(col){
    var n = 9 + row*4 + col;
    ax(n, imgL[col], imgR[col], imgT[row], imgB[row], {range:[0,810], visible:false}, {range:[750,0], visible:false});
    // black panel drawn behind the cells, tied to its own axes
    shapes.push({type:'rect', layer:'below', xref:'x'+n+' domain', yref:'y'+n+' domain', x0:0, x1:1, y0:0, y1:1, fillcolor:'#050505', line:{width:0}});
    if (col == 3) layer(n, nuclei[row], 'circle', 12, '#1f55c8', 0);
    var ringGreen = col == 0 ? '#33d64f' : (col == 2 ? (row ? '#e3d81f' : '#4fdc5a') : (row ? '#f4f3c4' : '#7fe8b0'));
    if (col >= 1) {
      if (row == 0) {
        layer(n, lag3Rings[0], 'circle-open', 5, '#a02020', 1);
        layer(n, lag3Extra[0], 'circle', 5, '#e01a24', 0);
      } else {
        layer(n, lag3Extra[1], 'circle-open', 5, '#a02020', 1);
        if (col == 1) layer(n, lag3Rings[1], 'circle-open', 7.5, '#e8202a', 2);
      }
    }
    if (col != 1) layer(n, cd8[row], 'circle-open', 7.5, ringGreen, 2);
    seg(n, 18, 150, 722, 722, '#fff', 4);
    txt(imgL[col]+5, row ? 1908 : 1658, '50 µm', 20, {xanchor:'left', font:{size:20, family:sansA, color:'#fff'}});
  });
});
var green = '#2fb34a', red = '#ed1c24', blue = '#1f6fc2';
function cs(s,c){ return '<span style="color:'+c+'">'+s+'</span>'; }
txt(260, 1413, cs('CD8',green), 24);
txt(537, 1413, cs('LAG3',red), 24);
txt(813, 1413, cs('CD8',green)+'/'+cs('LAG3',red), 24);
txt(1080, 1413, cs('CD8',green)+'/'+cs('LAG3',red)+'/'+cs('Hoechst',blue), 24);
txt(124, 1567, 'No DMAB', 24, {xanchor:'right'});
txt(124, 1816, 'DMAB', 24, {xanchor:'right'});

// ---------- F percent chart ----------
var axisF = {showline:true, linecolor:'#111', ticks:'outside', tickcolor:'#111'};
ax(17, 1336, 1507, 1510, 1766.4,
  Object.assign({range:[-.66,1.65], tickvals:[0,1], ticktext:pctNames, tickangle:-45, linewidth:5, ticklen:10, tickwidth:3, tickfont:{size:23.5, family:sansA}}, axisF),
  Object.assign({range:[0,80], tickvals:[0,20,40,60,80], linewidth:3, ticklen:7, tickwidth:3, tickfont:{size:23, family:sansA}}, axisF));
pctMean.forEach(function(m,i){
  on(17, {type:'scatter', mode:'markers', x:[i], y:[m], marker:{size:1, color:pctColors[i]},
    error_y:{type:'data', symmetric:false, array:[pctUp[i]-m], arrayminus:[m-pctLow[i]], color:pctColors[i], thickness:2.5, width:12}, cliponaxis:false});
  seg(17, i-.33, i+.33, m, m, pctColors[i], 5);
  on(17, {type:'scatter', mode:'markers', x:pctPtsX[i], y:pctPtsY[i], marker:{size:9, color:pctColors[i]}, cliponaxis:false});
});
seg(17, 0, 1, 74.3, 74.3, '#111', 3);
txt(1424, 1509, 'p = 0.0022', 24);
txt(1243, 1631, 'CD8<sup>+</sup>LAG3<sup>+</sup> cell of', 23.5, {textangle:-90});
txt(1272, 1631, 'CD8<sup>+</sup> cells (%)', 23.5, {textangle:-90});

// panel letters
var letters = ['A','B','C','D','E','F'];
var letterX = [9,732,9,9,501,8], letterY = [22,16,569,899,899,1382];
letters.forEach(function(s,i){ txt(letterX[i], letterY[i], s, 24, {font:{size:24, family:sansC, color:'#111'}}); });

layout.annotations = annos;
layout.shapes = shapes;
Plotly.newPlot('fig', traces, layout, {displayModeBar:false});
</script>
</body>
</html>
